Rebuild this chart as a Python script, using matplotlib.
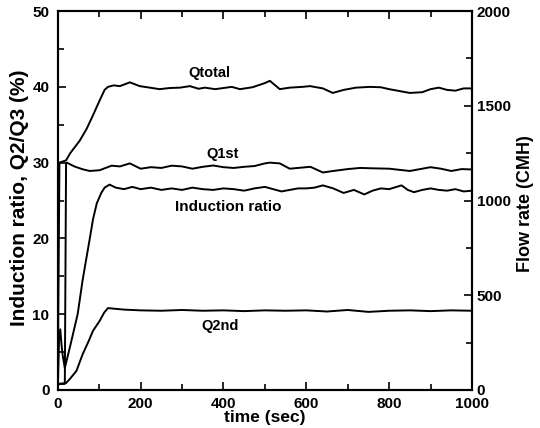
import numpy as np
import matplotlib
matplotlib.use("Agg")
import matplotlib.pyplot as plt
from matplotlib.ticker import MultipleLocator

plt.rcParams['font.family'] = ['Liberation Sans', 'DejaVu Sans']
plt.rcParams['font.weight'] = 'bold'

# induction ratio (%), left axis
t_ind = [0, 3, 6, 9, 12, 17, 30, 48, 60, 77, 85, 94, 105, 113, 125, 140, 160, 180,
         200, 225, 250, 275, 300, 325, 350, 375, 400, 425, 450, 475, 500, 520, 540,
         560, 580, 600, 620, 640, 665, 690, 715, 740, 760, 780, 800, 830, 845, 860,
         880, 900, 920, 940, 960, 980, 1000]
ind = [0, 6.5, 8, 6, 4.5, 2.9, 5.8, 10.0, 14.5, 19.9, 22.5, 24.6, 26.0, 26.7, 27.1,
       26.7, 26.5, 26.8, 26.5, 26.7, 26.4, 26.6, 26.4, 26.7, 26.5, 26.4, 26.6, 26.5,
       26.3, 26.6, 26.8, 26.5, 26.2, 26.4, 26.6, 26.6, 26.7, 27.0, 26.6, 26.0, 26.4,
       25.8, 26.3, 26.6, 26.5, 27.0, 26.4, 26.1, 26.4, 26.6, 26.4, 26.3, 26.5, 26.2, 26.3]

# flow rates (CMH), right axis
t_tot = [0, 4, 20, 30, 53, 70, 85, 101, 113, 121, 135, 150, 174, 198, 222, 246, 270,
         295, 319, 340, 355, 380, 400, 420, 440, 470, 500, 512, 536, 560, 590, 609,
         640, 664, 690, 720, 754, 780, 800, 830, 850, 880, 900, 920, 940, 960, 980, 1000]
q_tot = [60, 1200, 1212, 1250, 1316, 1380, 1450, 1528, 1584, 1600, 1608, 1604, 1624,
         1604, 1596, 1588, 1594, 1596, 1604, 1590, 1596, 1588, 1594, 1600, 1588, 1598,
         1620, 1632, 1588, 1596, 1600, 1604, 1592, 1568, 1584, 1596, 1600, 1598, 1588,
         1576, 1568, 1572, 1588, 1596, 1584, 1580, 1592, 1592]

t_q1 = [0, 17, 20, 22, 40, 60, 77, 101, 130, 150, 174, 200, 225, 250, 275, 300, 325,
        350, 375, 400, 425, 450, 475, 500, 512, 536, 560, 580, 610, 640, 665, 700,
        730, 760, 800, 850, 870, 900, 925, 950, 975, 1000]
q1 = [30, 32, 1195, 1200, 1180, 1165, 1156, 1160, 1184, 1180, 1196, 1168, 1176, 1172,
      1184, 1180, 1168, 1178, 1185, 1176, 1172, 1178, 1182, 1196, 1200, 1196, 1168,
      1172, 1178, 1148, 1156, 1166, 1172, 1170, 1168, 1156, 1164, 1176, 1168, 1156,
      1166, 1164]

t_q2 = [0, 20, 30, 45, 60, 75, 85, 101, 112, 121, 140, 160, 200, 250, 300, 350, 400,
        450, 500, 550, 600, 650, 700, 750, 800, 850, 900, 950, 1000]
q2 = [32, 36, 60, 100, 188, 260, 312, 364, 408, 432, 428, 424, 420, 418, 422, 418, 420,
      416, 420, 418, 420, 414, 422, 412, 418, 420, 416, 420, 418]

fig = plt.figure(figsize=(5.4, 4.28), dpi=100)
ax = fig.add_axes([0.107, 0.089, 0.767, 0.885])
ax2 = ax.twinx()

ax.plot(t_ind, ind, color='black', lw=1.4)
ax2.plot(t_tot, q_tot, color='black', lw=1.4)
ax2.plot(t_q1, q1, color='black', lw=1.4)
ax2.plot(t_q2, q2, color='black', lw=1.4)

ax.set_xlim(0, 1000)
ax.set_ylim(0, 50)
ax2.set_ylim(0, 2000)

ax.xaxis.set_major_locator(MultipleLocator(200))
ax.xaxis.set_minor_locator(MultipleLocator(100))
ax.yaxis.set_major_locator(MultipleLocator(10))
ax.yaxis.set_minor_locator(MultipleLocator(5))
ax2.yaxis.set_major_locator(MultipleLocator(500))
ax2.yaxis.set_minor_locator(MultipleLocator(250))

for a in (ax, ax2):
    a.tick_params(which='both', direction='in', width=1.2, labelsize=11, top=True)
    a.tick_params(which='major', length=6)
    a.tick_params(which='minor', length=4)
    for s in a.spines.values():
        s.set_linewidth(1.5)
ax.tick_params(which='both', right=False)
ax.tick_params(axis='y', pad=6)
ax.tick_params(axis='x', pad=5)

ax.set_xlabel('time (sec)', fontsize=12.5, fontweight='bold')
ax.xaxis.set_label_coords(0.5, -0.052)
ax.set_ylabel('Induction ratio, Q2/Q3 (%)', fontsize=15, fontweight='bold')
ax.yaxis.set_label_coords(-0.069, 0.507)
ax2.set_ylabel('Flow rate (CMH)', fontsize=13, fontweight='bold')
ax2.yaxis.set_label_coords(1.109, 0.493)

ax.text(365, 41.8, 'Qtotal', fontsize=10.5, fontweight='bold', ha='center', va='center')
ax.text(397, 31.2, 'Q1st', fontsize=10.5, fontweight='bold', ha='center', va='center')
ax.text(411, 24.1, 'Induction ratio', fontsize=11, fontweight='bold', ha='center', va='center')
ax.text(391, 8.4, 'Q2nd', fontsize=10.5, fontweight='bold', ha='center', va='center')

fig.savefig('out.png', dpi=100)
